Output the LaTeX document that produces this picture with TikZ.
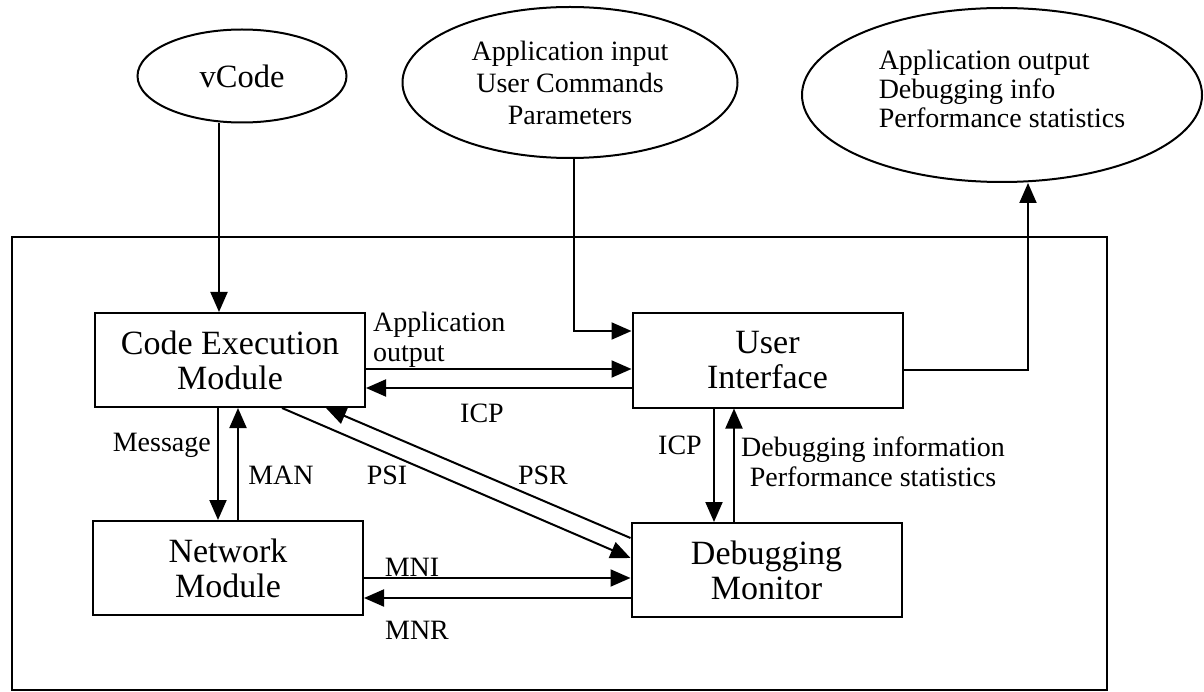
\documentclass[tikz,border=0pt]{standalone}
\usepackage{fontspec}
\setmainfont{Liberation Serif}
\usetikzlibrary{arrows.meta,shapes.geometric}
\newcommand\bxfont{\fontsize{34}{35}\selectfont}
\newcommand\vcfont{\fontsize{32.5}{34}\selectfont}
\newcommand\lbfont{\fontsize{28}{30}\selectfont}
\newcommand\infont{\fontsize{28}{32}\selectfont}
\newcommand\oufont{\fontsize{28}{29}\selectfont}
\begin{document}
\begin{tikzpicture}[x=1pt,y=-1pt,
  box/.style={draw, line width=2pt, minimum width=270pt, minimum height=94pt,
    inner sep=0pt, align=center, font=\bxfont},
  oval/.style={draw, ellipse, line width=2pt, inner sep=0pt},
  arr/.style={line width=2pt, -{Triangle[length=20pt,width=17pt]}},
  wire/.style={line width=2pt},
  lbl/.style={inner sep=0pt, font=\lbfont}]
\useasboundingbox (0,0) rectangle (1204,692);

% enclosing system frame
\draw[wire] (12,237) rectangle (1107,690);

% external data sources and sinks
\node[oval, minimum width=209pt, minimum height=93pt, font=\vcfont] (vcode) at (242,76) {vCode};
\node[oval, minimum width=335pt, minimum height=151pt, align=center, font=\infont] (ain) at (570,82.5)
  {Application input\\User Commands\\Parameters};
\node[oval, minimum width=400pt, minimum height=174pt] (aout) at (1002,95) {};
\node[inner sep=0pt, align=left, font=\oufont] (aouttxt) at (1002,89)
  {Application output\\Debugging info\\Performance statistics};

% modules
\node[box] (ce)  at (230,360)   {Code Execution\\Module};
\node[box] (ui)  at (767.5,360.5) {User\\Interface};
\node[box] (net) at (228,568)   {Network\\Module};
\node[box] (dm)  at (766.5,570) {Debugging\\Monitor};

% helper coordinates for connector positions
\coordinate (xv) at (219,0);
\coordinate (xa) at (574,0);
\coordinate (ya) at (0,331);
\coordinate (yo) at (0,370);
\coordinate (xo) at (1028,0);
\coordinate (y1) at (0,369);
\coordinate (y2) at (0,388);
\coordinate (x1) at (218,0);
\coordinate (x2) at (238,0);
\coordinate (x3) at (714,0);
\coordinate (x4) at (734,0);
\coordinate (y3) at (0,578);
\coordinate (y4) at (0,598);
\coordinate (pa) at (282,0);
\coordinate (pb) at (0,558);
\coordinate (pc) at (0,538);
\coordinate (pd) at (326,0);

% external connections
\draw[arr] (vcode.south -| xv) -- (ce.north -| xv);
\draw[arr] (ain.south -| xa) |- (ui.west |- ya);
\draw[arr] (ui.east |- yo) -| (aout.south -| xo);

% internal connections
\draw[arr] (ce.east |- y1) -- (ui.west |- y1);
\draw[arr] (ui.west |- y2) -- (ce.east |- y2);
\draw[arr] (ce.south -| x1) -- (net.north -| x1);
\draw[arr] (net.north -| x2) -- (ce.south -| x2);
\draw[arr] (ui.south -| x3) -- (dm.north -| x3);
\draw[arr] (dm.north -| x4) -- (ui.south -| x4);
\draw[arr] (net.east |- y3) -- (dm.west |- y3);
\draw[arr] (dm.west |- y4) -- (net.east |- y4);
\draw[arr] (ce.south -| pa) -- (dm.west |- pb);
\draw[arr] (dm.west |- pc) -- (ce.south -| pd);

% connector labels
\node[lbl, anchor=west, align=left] (lao) at (373,340) {Application\\output};
\node[lbl] (licp1) at (482,413) {ICP};
\node[lbl, anchor=east] (lmsg) at (211,445) {Message};
\node[lbl] (lman) at (281,475) {MAN};
\node[lbl] (lpsi) at (387,475) {PSI};
\node[lbl] (lpsr) at (543,475) {PSR};
\node[lbl] (licp2) at (680,445) {ICP};
\node[lbl, align=center] (ldbg) at (873,462) {Debugging information\\Performance statistics};
\node[lbl] (lmni) at (412,567) {MNI};
\node[lbl] (lmnr) at (417,630) {MNR};
\end{tikzpicture}
\end{document}
